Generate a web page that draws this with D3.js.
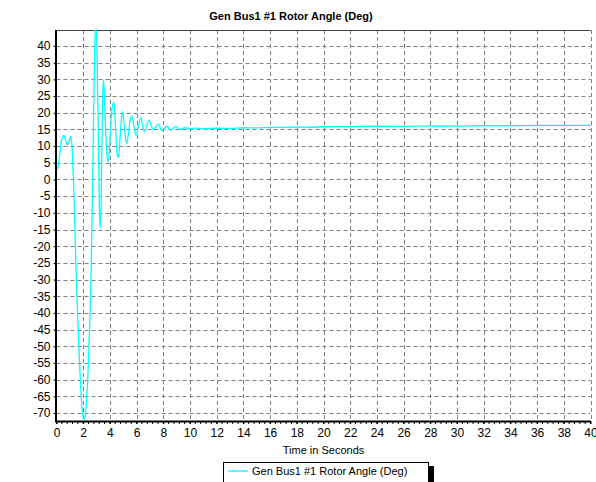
<!DOCTYPE html>
<html>
<head>
<meta charset="utf-8">
<script src="https://cdn.jsdelivr.net/npm/d3@7/dist/d3.min.js"></script>
<style>
  html, body { margin: 0; padding: 0; background: #fff; }
  svg { display: block; font-family: "Liberation Sans", Arial, sans-serif; }
</style>
</head>
<body>
<svg id="chart" width="596" height="482"></svg>
<script>
// ---- Data ----
const chartTitle = "Gen Bus1 #1 Rotor Angle (Deg)";
const xAxisTitle = "Time in Seconds";
const seriesName = "Gen Bus1 #1 Rotor Angle (Deg)";

const timeSec = [0.00, 0.08, 0.20, 0.35, 0.55, 0.70, 0.82, 0.95, 1.06, 1.15, 1.22, 1.30, 1.38, 1.45, 1.55, 1.65, 1.75, 1.85, 1.95, 2.05,
  2.15, 2.25, 2.35, 2.45, 2.55, 2.62, 2.68, 2.74, 2.80, 2.87, 2.95, 3.03, 3.10, 3.17, 3.24, 3.29, 3.34, 3.40, 3.46, 3.52,
  3.58, 3.66, 3.75, 3.85, 3.95, 4.05, 4.15, 4.30, 4.42, 4.55, 4.63, 4.72, 4.85, 4.96, 5.08, 5.20, 5.26, 5.40, 5.55, 5.66,
  5.80, 5.96, 6.12, 6.31, 6.45, 6.58, 6.75, 6.93, 7.10, 7.25, 7.45, 7.63, 7.88, 8.26, 8.56, 8.95, 9.20, 9.60, 10.0, 10.5,
  11, 12, 13, 14, 15, 16, 17, 18, 19, 20, 22, 24, 26, 28, 30, 32, 34, 36, 38, 40];
const rotorAngle = [3.8, 3.2, 6.0, 11.0, 13.2, 11.5, 10.3, 11.5, 12.9, 10.5, 5.0, -3.0, -15.0, -25.0, -37.0, -48.0, -57.0, -65.0, -70.0, -72.0,
  -71.0, -66.0, -59.0, -48.0, -35.0, -22.0, -8.0, 8.0, 25.0, 40.0, 47.0, 40.0, 22.0, 2.0, -12.0, -14.5, -8.0, 10.0, 25.0, 29.8,
  26.0, 17.0, 9.0, 5.3, 8.0, 15.0, 21.0, 23.2, 16.0, 7.5, 6.6, 10.0, 17.5, 20.3, 16.0, 11.5, 10.8, 14.0, 18.5, 19.0,
  16.0, 13.3, 15.5, 18.6, 16.2, 14.3, 16.0, 17.8, 16.0, 14.8, 15.8, 16.6, 14.6, 16.0, 14.8, 15.9, 15.0, 15.5, 15.2, 15.4,
  15.2, 15.35, 15.3, 15.5, 15.45, 15.6, 15.6, 15.7, 15.65, 15.8, 15.85, 15.95, 15.9, 16.05, 16.0, 16.1, 16.1, 16.2, 16.2, 16.3];

const xTicks = d3.range(0, 41, 2);
const yTicks = d3.range(-70, 41, 5);
const xDomain = [0, 40];
const yDomain = [-72.4, 44.8];

// ---- Layout ----
const svg = d3.select("#chart");
const pLeft = 56.5, pRight = 590.5, pTop = 30, pBottom = 421;

const x = d3.scaleLinear().domain(xDomain).range([pLeft, pRight]);
const y = d3.scaleLinear().domain(yDomain).range([pBottom, pTop]);
const fmt = d => String(d);

// grid
const grid = svg.append("g").attr("stroke", "#808080").attr("stroke-width", 1).attr("stroke-dasharray", "4,3");
grid.selectAll("line.v").data(xTicks.filter(d => d > 0)).join("line")
  .attr("x1", d => Math.round(x(d)) + 0.5).attr("x2", d => Math.round(x(d)) + 0.5)
  .attr("y1", pTop).attr("y2", pBottom);
grid.selectAll("line.h").data(yTicks).join("line")
  .attr("x1", pLeft).attr("x2", pRight)
  .attr("y1", d => Math.round(y(d)) + 0.5).attr("y2", d => Math.round(y(d)) + 0.5);

// top border
svg.append("line").attr("x1", pLeft).attr("x2", pRight).attr("y1", pTop + 0.5).attr("y2", pTop + 0.5)
  .attr("stroke", "#444").attr("stroke-width", 1);

// clip
svg.append("clipPath").attr("id", "plotclip").append("rect")
  .attr("x", pLeft).attr("y", pTop).attr("width", pRight - pLeft).attr("height", pBottom - pTop);

const pts = timeSec.map((t, i) => [t, rotorAngle[i]]);
const line = d3.line().x(d => x(d[0])).y(d => y(d[1])).curve(d3.curveMonotoneX);
svg.append("path").datum(pts)
  .attr("clip-path", "url(#plotclip)")
  .attr("fill", "none").attr("stroke", "#00FFFF").attr("stroke-width", 1.3)
  .attr("d", line);

// X axis
const xAxisG = svg.append("g").attr("transform", `translate(0,${pBottom})`);
xAxisG.call(d3.axisBottom(x).tickValues(xTicks).tickSize(3).tickFormat(fmt));
xAxisG.select(".domain").remove();
const minorX = d3.range(0, 40.01, 0.4);
xAxisG.selectAll("line.minor").data(minorX).join("line").attr("class", "minor")
  .attr("x1", d => x(d)).attr("x2", d => x(d)).attr("y1", 0).attr("y2", 3).attr("stroke", "#000");
xAxisG.selectAll(".tick text").attr("font-size", 12).attr("fill", "#000").attr("dy", "0.85em")
  .attr("font-family", "Liberation Sans, Arial, sans-serif");
xAxisG.selectAll(".tick line").attr("stroke", "#000");

// Y axis
const yAxisG = svg.append("g").attr("transform", `translate(${pLeft},0)`);
yAxisG.call(d3.axisLeft(y).tickValues(yTicks).tickSize(3).tickPadding(3).tickFormat(fmt));
yAxisG.select(".domain").remove();
yAxisG.selectAll(".tick text").attr("font-size", 12).attr("fill", "#000")
  .attr("font-family", "Liberation Sans, Arial, sans-serif");

// thick axis lines
svg.append("line").attr("x1", pLeft - 0.5).attr("x2", pLeft - 0.5).attr("y1", pTop).attr("y2", pBottom + 1)
  .attr("stroke", "#000").attr("stroke-width", 2);
svg.append("line").attr("x1", pLeft - 1.5).attr("x2", pRight).attr("y1", pBottom + 0.5).attr("y2", pBottom + 0.5)
  .attr("stroke", "#000").attr("stroke-width", 2);

// Title
svg.append("text").attr("x", 291).attr("y", 20).attr("text-anchor", "middle")
  .attr("font-size", 11).attr("font-weight", "bold").attr("fill", "#000").text(chartTitle);

// X title
svg.append("text").attr("x", (pLeft + pRight) / 2).attr("y", 454).attr("text-anchor", "middle")
  .attr("font-size", 11).attr("fill", "#000").text(xAxisTitle);

// Legend
const lg = svg.append("g");
lg.append("rect").attr("x", 227).attr("y", 466).attr("width", 207).attr("height", 30).attr("fill", "#000");
lg.append("rect").attr("x", 223.5).attr("y", 462.5).attr("width", 205).attr("height", 30)
  .attr("fill", "#fff").attr("stroke", "#000").attr("stroke-width", 1);
lg.append("line").attr("x1", 228).attr("x2", 248).attr("y1", 471).attr("y2", 471)
  .attr("stroke", "#00FFFF").attr("stroke-width", 1.3);
lg.append("text").attr("x", 252).attr("y", 475).attr("font-size", 11).attr("fill", "#000").text(seriesName);
</script>
</body>
</html>
